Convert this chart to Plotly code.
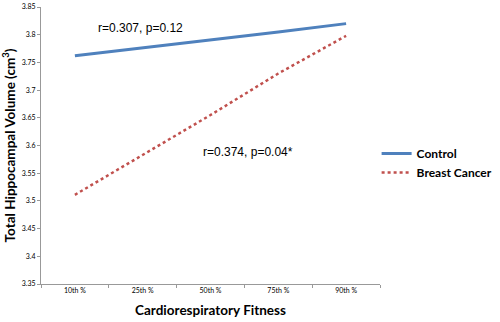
import plotly.graph_objects as go

categories = ["10th %", "25th %", "50th %", "75th %", "90th %"]
control = [3.762, 3.776, 3.790, 3.805, 3.820]
breast_cancer = [3.511, 3.583, 3.655, 3.730, 3.798]
y_ticks = [3.35, 3.4, 3.45, 3.5, 3.55, 3.6, 3.65, 3.7, 3.75, 3.8, 3.85]

fig = go.Figure()
fig.add_trace(go.Scatter(x=categories, y=control, mode="lines", name="Control",
                         line=dict(color="#4F81BD", width=3)))
fig.add_trace(go.Scatter(x=categories, y=breast_cancer, mode="lines", name="Breast Cancer",
                         line=dict(color="#C0504D", width=2.5, dash="dot")))

fig.add_annotation(x=0.97, y=3.813, text="r=0.307, p=0.12", showarrow=False, xref="x", yref="y",
                   font=dict(family="Liberation Sans", size=12, color="black"))
fig.add_annotation(x=2.55, y=3.588, text="r=0.374, p=0.04*", showarrow=False, xref="x", yref="y",
                   font=dict(family="Liberation Sans", size=12, color="black"))

fig.update_layout(
    width=500, height=322,
    margin=dict(l=41, r=120, t=7, b=38, autoexpand=False),
    plot_bgcolor="white", paper_bgcolor="white",
    showlegend=True,
    legend=dict(x=0.99, y=0.437, xanchor="left", yanchor="middle",
                font=dict(family="Lato", size=12, color="black", weight="bold"),
                itemwidth=30, tracegroupgap=4),
    xaxis=dict(type="category", showgrid=False, showline=True, linecolor="#999999",
               automargin=False,
               ticks="outside", tickson="boundaries", ticklen=3, tickcolor="#999999",
               tickfont=dict(family="Lato", size=7, color="black"),
               range=[-0.5, 4.5],
               title=dict(text="Cardiorespiratory Fitness", standoff=12,
                          font=dict(family="Lato", size=13.5, color="black", weight="bold"))),
    yaxis=dict(showgrid=False, showline=True, linecolor="#999999", range=[3.35, 3.85],
               automargin=False,
               tickvals=y_ticks, ticktext=[f"{v:g}" for v in y_ticks],
               ticks="outside", ticklen=3, tickcolor="#999999", zeroline=False,
               tickfont=dict(family="Lato", size=7, color="black"),
               title=dict(text="Total Hippocampal Volume (cm<sup>3</sup>)", standoff=4,
                          font=dict(family="Lato", size=13.5, color="black", weight="bold"))),
)

fig.write_html("out.html", config={"displayModeBar": False},
               post_script="document.body.style.margin='0';")
